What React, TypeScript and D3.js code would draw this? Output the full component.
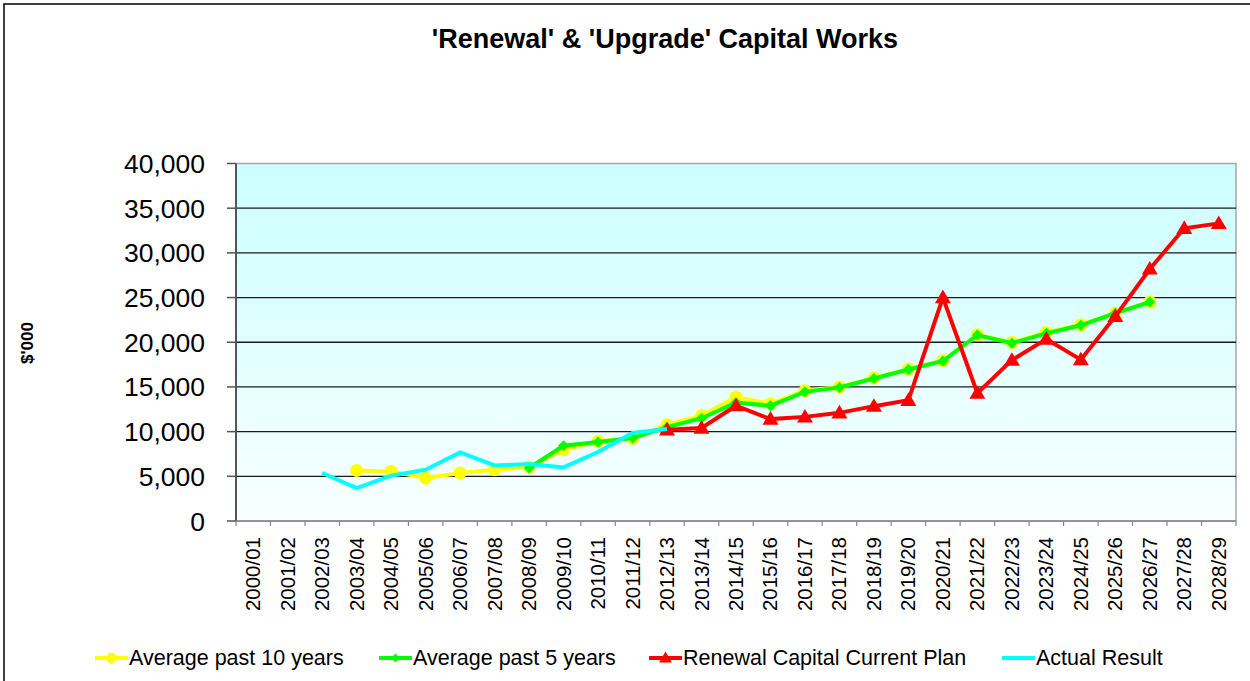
import React from 'react';
import * as d3 from 'd3';

const categories = [
  '2000/01', '2001/02', '2002/03', '2003/04', '2004/05', '2005/06', '2006/07', '2007/08',
  '2008/09', '2009/10', '2010/11', '2011/12', '2012/13', '2013/14', '2014/15', '2015/16',
  '2016/17', '2017/18', '2018/19', '2019/20', '2020/21', '2021/22', '2022/23', '2023/24',
  '2024/25', '2025/26', '2026/27', '2027/28', '2028/29'
];

const avgPast10 = [
  null, null, null, 5660, 5550, 4810, 5370, 5740, 6040, 7980, 8900, 9250, 10770, 11780,
  13870, 13120, 14580, 14990, 16000, 17000, 17930, 20840, 19980, 21100, 21960, 23270, 24500,
  null, null
];

const avgPast5 = [
  null, null, null, null, null, null, null, null, 5930, 8420, 8840, 9280, 10500, 11500,
  13250, 12900, 14450, 14950, 15950, 16950, 17900, 20800, 19900, 21000, 21900, 23250, 24500,
  null, null
];

const renewalPlan = [
  null, null, null, null, null, null, null, null, null, null, null, null, 10200, 10400,
  12900, 11400, 11650, 12100, 12850, 13500, 25000, 14300, 18000, 20350, 18050, 22900, 28200,
  32750, 33300
];

const actualResult = [
  null, null, 5370, 3690, 5070, 5740, 7680, 6220, 6370, 6000, 7720, 9840, 10300,
  null, null, null, null, null, null, null, null, null, null, null, null, null, null, null, null
];

const yTicks = [0, 5000, 10000, 15000, 20000, 25000, 30000, 35000, 40000];

const W = 1250;
const H = 681;
const plot = { left: 236, top: 163.5, right: 1236, bottom: 521 };
const font = 'Arial, "Liberation Sans", sans-serif';

type Pt = { c: string; v: number };

function points(vals: (number | null)[]): Pt[] {
  return vals
    .map((v, i) => ({ c: categories[i], v }))
    .filter(d => d.v != null) as Pt[];
}

function Marker({ kind, x, y, color, scale = 1 }: any) {
  if (kind === 'circle') {
    return <circle cx={x} cy={y} r={6.5 * scale} fill={color} />;
  }
  if (kind === 'diamond') {
    const s = 5.5 * scale;
    return <path d={`M${x},${y - s}L${x + s},${y}L${x},${y + s}L${x - s},${y}Z`} fill={color} />;
  }
  if (kind === 'triangle') {
    const s = 8 * scale;
    return <path d={`M${x},${y - s}L${x + s},${y + s * 0.7}L${x - s},${y + s * 0.7}Z`} fill={color} />;
  }
  return null;
}

const series = [
  { name: 'Average past 10 years', data: avgPast10, color: '#ffff00', marker: 'circle', legendX: 95 },
  { name: 'Average past 5 years', data: avgPast5, color: '#00ff00', marker: 'diamond', legendX: 379 },
  { name: 'Renewal Capital Current Plan', data: renewalPlan, color: '#ff0000', marker: 'triangle', legendX: 649 },
  { name: 'Actual Result', data: actualResult, color: '#00ffff', marker: 'none', legendX: 1002 }
];

export default function App() {
  const x = d3.scaleBand().domain(categories).range([plot.left, plot.right]).padding(0);
  const y = d3.scaleLinear().domain([0, 40000]).range([plot.bottom, plot.top]);
  const cx = (c: string) => (x(c) as number) + x.bandwidth() / 2;

  const line = d3.line<Pt>().x(d => cx(d.c)).y(d => y(d.v));
  const fmt = d3.format(',');

  return (
    <svg width={W} height={H} style={{ position: 'absolute', left: 0, top: 0, background: '#fff' }}>
      <defs>
        <linearGradient id="bg" x1="0" y1="0" x2="0" y2="1">
          <stop offset="0%" stopColor="#ccffff" />
          <stop offset="100%" stopColor="#f8ffff" />
        </linearGradient>
      </defs>

      {/* chart frame */}
      <rect x={4} y={4} width={1260} height={700} fill="#fff" stroke="#000" strokeWidth={1.5} />

      <text x={665} y={48} textAnchor="middle" fontFamily={font} fontWeight="bold" fontSize={27}>
        'Renewal' &amp; 'Upgrade' Capital Works
      </text>

      {/* plot area */}
      <rect x={plot.left} y={plot.top} width={plot.right - plot.left} height={plot.bottom - plot.top}
        fill="url(#bg)" stroke="#a6a6a6" strokeWidth={1.5} />

      {yTicks.filter(t => t > 0 && t < 40000).map(t => (
        <line key={t} x1={plot.left} x2={plot.right} y1={y(t)} y2={y(t)} stroke="#1a1a1a" strokeWidth={1.3} />
      ))}

      {/* y axis */}
      <line x1={plot.left} x2={plot.left} y1={plot.top} y2={plot.bottom} stroke="#555" strokeWidth={2} />
      {yTicks.map(t => (
        <g key={t}>
          <line x1={plot.left - 9} x2={plot.left} y1={y(t)} y2={y(t)} stroke="#555" strokeWidth={1.5} />
          <text x={205} y={y(t)} dy="0.36em" textAnchor="end" fontFamily={font} fontSize={26.5}>
            {fmt(t)}
          </text>
        </g>
      ))}
      <text transform={`translate(33,343) rotate(-90)`} textAnchor="middle" fontFamily={font}
        fontWeight="bold" fontSize={17}>
        $'000
      </text>

      {/* x axis */}
      <line x1={plot.left} x2={plot.right} y1={plot.bottom} y2={plot.bottom} stroke="#888" strokeWidth={1.5} />
      {categories.map(c => (
        <g key={c}>
          <line x1={(x(c) as number) + x.bandwidth()} x2={(x(c) as number) + x.bandwidth()}
            y1={plot.bottom} y2={plot.bottom + 5} stroke="#888" strokeWidth={1.2} />
          <text transform={`translate(${cx(c) + 7},537) rotate(-90)`} textAnchor="end"
            fontFamily={font} fontSize={20.5}>
            {c}
          </text>
        </g>
      ))}
      <line x1={plot.left} x2={plot.left} y1={plot.bottom} y2={plot.bottom + 5} stroke="#888" strokeWidth={1.2} />

      {/* series */}
      {series.map(s => {
        const pts = points(s.data);
        return (
          <g key={s.name}>
            <path d={line(pts) || ''} fill="none" stroke={s.color} strokeWidth={4} strokeLinejoin="miter" />
            {pts.map(p => (
              <Marker key={p.c} kind={s.marker} x={cx(p.c)} y={y(p.v)} color={s.color} />
            ))}
          </g>
        );
      })}

      {/* legend */}
      {series.map(s => (
        <g key={s.name}>
          <line x1={s.legendX} x2={s.legendX + 33} y1={658} y2={658} stroke={s.color} strokeWidth={4} />
          <Marker kind={s.marker} x={s.legendX + 16.5} y={658} color={s.color} scale={0.8} />
          <text x={s.legendX + 34} y={665} fontFamily={font} fontSize={21.5}>
            {s.name}
          </text>
        </g>
      ))}
    </svg>
  );
}
